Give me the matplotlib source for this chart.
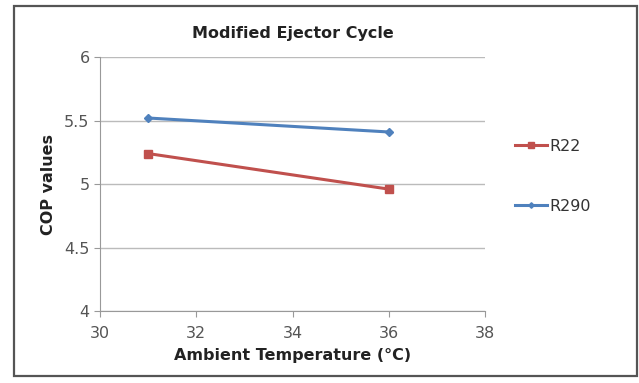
import matplotlib.pyplot as plt
from matplotlib.patches import Rectangle

plt.rcParams['font.family'] = ['DejaVu Sans']

# data
temps = [31, 36]
cop_r22 = [5.24, 4.96]
cop_r290 = [5.52, 5.41]
series_names = ['R22', 'R290']

fig = plt.figure(figsize=(6.39, 3.83), dpi=100)
ax = fig.add_axes([0.1565, 0.188, 0.6025, 0.663])

# outer chart frame
fig.patches.append(Rectangle((0.022, 0.018), 0.975, 0.967, transform=fig.transFigure,
                             fill=False, edgecolor='#555555', linewidth=1.6))

ax.plot(temps, cop_r22, color='#C0504D', marker='s', markersize=6, linewidth=2.2,
        label=series_names[0])
ax.plot(temps, cop_r290, color='#4F81BD', marker='D', markersize=4, linewidth=2.2,
        label=series_names[1])

ax.set_xlim(30, 38)
ax.set_ylim(4, 6)
ax.set_xticks([30, 32, 34, 36, 38])
ax.set_yticks([4, 4.5, 5, 5.5, 6])
ax.set_yticklabels(['4', '4.5', '5', '5.5', '6'])

ax.grid(axis='y', color='#BBBBBB', linewidth=1)
ax.set_axisbelow(True)
for s in ['top', 'right']:
    ax.spines[s].set_visible(False)
for s in ['left', 'bottom']:
    ax.spines[s].set_color('#999999')
ax.tick_params(axis='both', colors='#999999', labelcolor='#555555', labelsize=11.5,
               length=4, direction='out')
ax.tick_params(axis='x', pad=7)

ax.set_title('Modified Ejector Cycle', fontsize=11.5, fontweight='bold', pad=14,
             color='#222222')
ax.set_xlabel('Ambient Temperature (°C)', fontsize=11.5, fontweight='bold', labelpad=5,
              color='#222222')
ax.set_ylabel('COP values', fontsize=11.5, fontweight='bold', labelpad=6, color='#222222')

ax.legend(loc='center left', bbox_to_anchor=(0.784, 0.54), bbox_transform=fig.transFigure,
          frameon=False, fontsize=11.5, handlelength=2.0, labelspacing=2.8,
          handletextpad=0.15, markerscale=0.7, labelcolor='#333333')

fig.savefig('out.png', dpi=100)
